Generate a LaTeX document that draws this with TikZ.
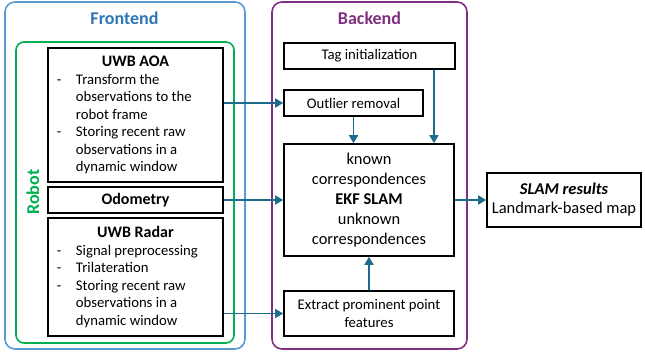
\documentclass[tikz,border=0pt]{standalone}
\usepackage{fontspec}
\setmainfont{Carlito}
\usetikzlibrary{arrows.meta}
\definecolor{feline}{HTML}{5B9BD5}
\definecolor{fetext}{HTML}{2E75B6}
\definecolor{robotgreen}{HTML}{00B050}
\definecolor{bepurple}{HTML}{7F2F7F}
\definecolor{arrowblue}{HTML}{1F6B8E}
\newcommand\dl[1]{\par\noindent\hangindent=24pt\hangafter=1\makebox[24pt][l]{\hspace{5pt}-}#1\par}
\newcommand\nl{\hfil\break}
\newcommand\listbox[2]{\parbox{167pt}{\centering\fontsize{16}{20}\selectfont\bfseries #1\par\fontsize{14.7}{17.5}\selectfont\mdseries\raggedright #2}}
\tikzset{
  box/.style={draw=black, line width=1.6pt, fill=white, inner sep=0pt, align=center},
  bodyfont/.style={font=\fontsize{14.7}{17.5}\selectfont},
  arr/.style={draw=arrowblue, line width=1.6pt, -{Triangle[length=8pt,width=9pt]}},
  group/.style={line width=1.6pt, rounded corners=10pt},
}
\begin{document}
\begin{tikzpicture}[x=1pt,y=-1pt]
\useasboundingbox (0,0) rectangle (645,353);
% groups
\draw[group, draw=feline] (5,2) rectangle (245,349);
\node[font=\fontsize{18}{20}\selectfont\bfseries, text=fetext] (fetitle) at (124.5,18) {Frontend};
\draw[group, draw=robotgreen, rounded corners=8pt] (16,42) rectangle (234,343);
\node[font=\fontsize{18}{20}\selectfont\bfseries, text=robotgreen, rotate=90] (robot) at (33,192) {Robot};
\draw[group, draw=bepurple] (272,2) rectangle (467,349);
\node[font=\fontsize{18}{20}\selectfont\bfseries, text=bepurple] (betitle) at (369.5,18) {Backend};
% frontend boxes
\node[box, minimum width=175, minimum height=134] (aoa) at (135.5,115)
 {\listbox{UWB AOA}{\dl{Transform the\nl observations to the\nl robot frame}\dl{Storing recent raw\nl observations in a\nl dynamic window}}};
\node[box, minimum width=175, minimum height=26, font=\fontsize{16}{19}\selectfont\bfseries] (odo) at (135.5,200) {Odometry};
\node[box, minimum width=175, minimum height=118] (radar) at (135.5,277)
 {\listbox{UWB Radar}{\dl{Signal preprocessing}\dl{Trilateration}\dl{Storing recent raw\nl observations in a\nl dynamic window}}};
% backend boxes
\node[box, minimum width=171, minimum height=26, bodyfont] (tag) at (369.5,56) {Tag initialization};
\node[box, minimum width=139, minimum height=26, bodyfont] (outlier) at (353.5,103) {Outlier removal};
\node[box, minimum width=170, minimum height=112, font=\fontsize{16.4}{20}\selectfont] (ekf) at (369,200)
 {known\\correspondences\\\textbf{EKF SLAM}\\unknown\\correspondences};
\node[box, minimum width=170, minimum height=45, bodyfont] (extract) at (369,313.5) {Extract prominent point\\features};
\node[box, minimum width=154, minimum height=54, font=\fontsize{16.5}{19}\selectfont] (results) at (564,200)
 {\textbf{\textit{SLAM results}}\\Landmark-based map};
% connectors
\draw[arr] (aoa.east |- outlier.west) -- (outlier.west);
\draw[arr] (odo.east) -- (odo.east -| ekf.west);
\draw[arr] (radar.east |- extract.west) -- (extract.west);
\coordinate (tagout) at ([xshift=64.5pt]tag.south);
\draw[arr] (tagout) -- (tagout |- ekf.north);
\draw[arr] (outlier.south) -- (outlier.south |- ekf.north);
\draw[arr] (extract.north) -- (ekf.south);
\draw[arr] (ekf.east) -- (results.west);
\end{tikzpicture}
\end{document}
